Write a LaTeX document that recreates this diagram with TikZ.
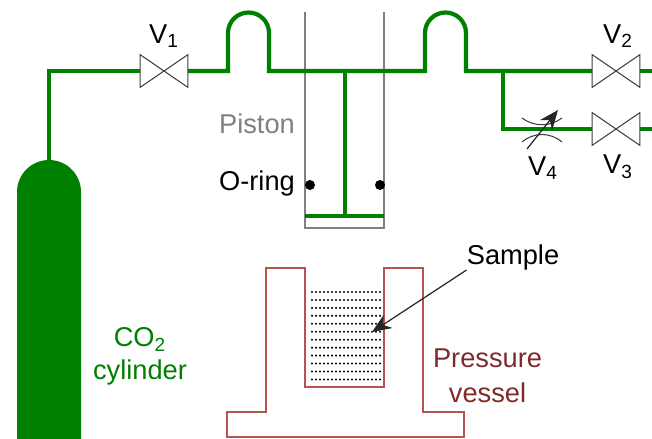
\documentclass[tikz,border=0pt]{standalone}
\usepackage{fontspec}
\setmainfont{Liberation Sans}
\usetikzlibrary{arrows.meta}
\definecolor{pipegreen}{HTML}{008000}
\definecolor{vesselred}{HTML}{B85450}
\definecolor{vesseltext}{HTML}{7F2A2A}
\definecolor{pistongray}{HTML}{808080}
\tikzset{
  pipe/.style={pipegreen,line width=2.4pt,line join=miter},
  valvebox/.style={inner sep=0pt,minimum width=.94cm,minimum height=.64cm},
  label/.style={inner sep=0pt,font=\fontsize{15.5}{18}\selectfont},
  pointer/.style={black!85,line width=.7pt,-{Stealth[length=11pt,width=9pt]}},
}

\begin{document}
\begin{tikzpicture}[x=.02cm,y=-.02cm]
  \newcommand{\valve}[1]{\draw[black!75,line width=.6pt,fill=white] (#1.north west) -- (#1.south east) -- (#1.north east) -- (#1.south west) -- cycle;}
  \useasboundingbox (0,0) rectangle (652,439);
  % Nodes on the gas line.
  \node[valvebox] (v1) at (164,71) {};
  \node[valvebox] (v2) at (616,71) {};
  \node[valvebox] (v3) at (616,129) {};
  \coordinate (cyl) at (49,160);
  \coordinate (corner) at (49,71);
  \coordinate (tee) at (503,71);
  \coordinate (bend) at (503,129);
  \coordinate (rod) at (345,71);
  \coordinate (foot) at (345,216);
  \coordinate (endtop) at (652,71);
  \coordinate (endlow) at (652,129);
  % Piston, behind the green line.
  \draw[pistongray,line width=1.2pt] (305,12) -- (305,228) -- (384,228) -- (384,12);
  % Pipes with the two loops.
  \draw[pipe] (cyl) -- (corner) -- (v1.west);
  \draw[pipe] (v1.east) -- (228,71) -- (228,33) arc (180:360:20.5) -- (269,71) -- (425,71) -- (425,33) arc (180:360:20.5) -- (466,71) -- (v2.west);
  \draw[pipe] (tee) -- (bend) -- (v3.west);
  \draw[pipe] (v2.east) -- (endtop);
  \draw[pipe] (v3.east) -- (endlow);
  \draw[pipe] (rod) -- (foot);
  \draw[pipe] (305,216) -- (384,216);
  \valve{v1} \valve{v2} \valve{v3}
  % Needle valve V4.
  \draw[black!75,line width=.6pt] (522,118) .. controls (534,127) and (550,127) .. (562,118);
  \draw[black!75,line width=.6pt] (522,142) .. controls (534,132) and (550,132) .. (562,142);
  \coordinate (needlea) at (527,149);
  \coordinate (needleb) at (558,110);
  \draw[pointer] (needlea) -- (needleb);
  % O-rings.
  \fill (310,185) circle (5);
  \fill (380,185) circle (5);
  % Cylinder.
  \fill[pipegreen] (17,439) -- (17,192) arc (180:360:32) -- (81,439) -- cycle;
  % Vessel and sample.
  \draw[vesselred,line width=1.2pt] (266,268) -- (305,268) -- (305,387) -- (384,387) -- (384,268) -- (423,268) -- (423,412) -- (464,412) -- (464,437) -- (227,437) -- (227,412) -- (266,412) -- cycle;
  \foreach \row in {0,...,11}
    \foreach \col in {0,...,17}
      \fill (312+4*\col,292+7.95*\row) circle (1.15);
  % Labels.
  \node[label] (lv1) at (164,36) {V\textsubscript{1}};
  \node[label] (lv2) at (618,36) {V\textsubscript{2}};
  \node[label] (lv3) at (618,167) {V\textsubscript{3}};
  \node[label] (lv4) at (543,168) {V\textsubscript{4}};
  \node[label,pistongray] (piston) at (257,124) {Piston};
  \node[label] (oring) at (257,183) {O-ring};
  \node[label] (sample) at (513,257) {Sample};
  \node[label,pipegreen,align=center] (co2) at (140,356.5) {CO\textsubscript{2}\\[1pt]cylinder};
  \node[label,vesseltext,align=center] (vessel) at (487.5,376) {Pressure\\[2pt]vessel};
  \coordinate (samplept) at (372,332);
  \draw[pointer] (sample.south west) -- (samplept);
\end{tikzpicture}
\end{document}
